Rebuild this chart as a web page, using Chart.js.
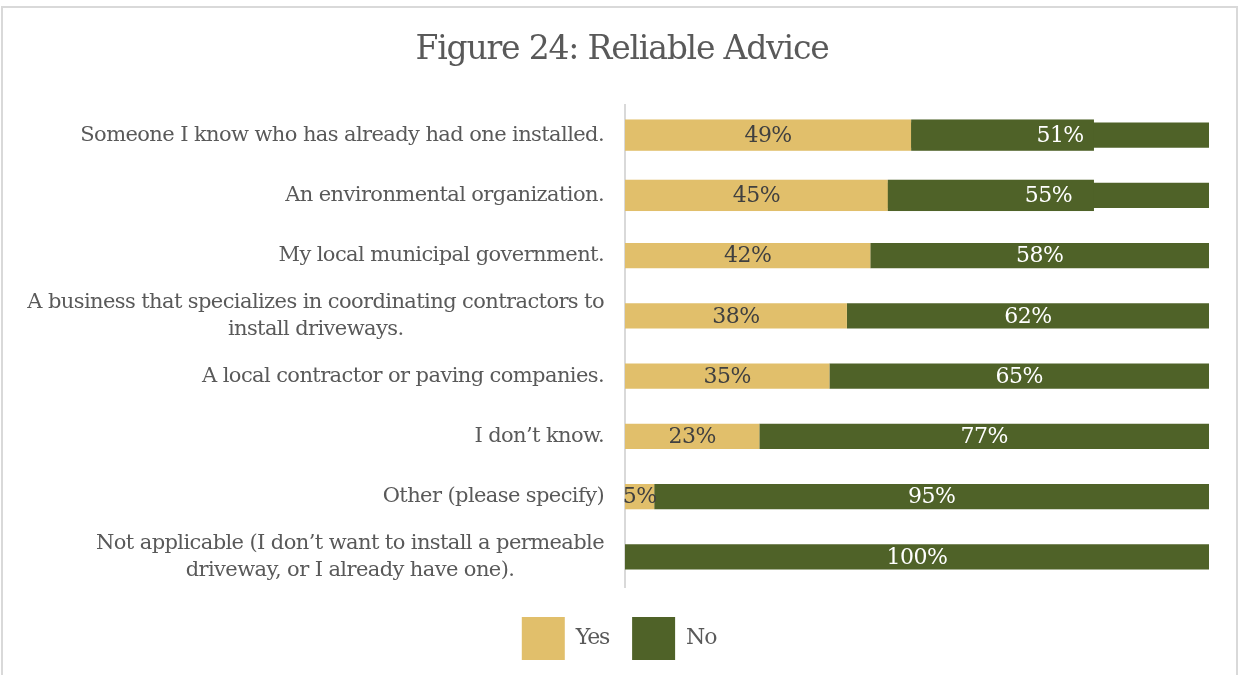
<!DOCTYPE html>
<html>
<head>
<meta charset="utf-8">
<title>Figure 24: Reliable Advice</title>
<script src="https://cdn.jsdelivr.net/npm/chart.js@4.4.0/dist/chart.umd.min.js"></script>
<style>
  html, body { margin: 0; padding: 0; background: #fff; overflow: hidden; }
  #frame { position: absolute; left: 1px; top: 6px; width: 1233px; height: 700px; border: 2px solid #d9d9d9; }
  #c { position: absolute; left: 0; top: 0; }
</style>
</head>
<body>
<div id="frame"></div>
<canvas id="c" width="1238" height="675"></canvas>
<script>
// Survey answers: who respondents would trust for advice
const categories = [
  ['Someone I know who has already had one installed.'],
  ['An environmental organization.'],
  ['My local municipal government.'],
  ['A business that specializes in coordinating contractors to', 'install driveways.'],
  ['A local contractor or paving companies.'],
  ['I don\u2019t know.'],
  ['Other (please specify)'],
  ['Not applicable (I don\u2019t want to install a permeable', 'driveway, or I already have one).']
];
const seriesNames = ['Yes', 'No'];
const yesValues = [49, 45, 42, 38, 35, 23, 5, 0];
const noValues  = [51, 55, 58, 62, 65, 77, 95, 100];

const YES_COLOR = '#E1BF6B';
const NO_COLOR = '#4F6228';
const TEXT_GRAY = '#595959';
const SERIF = '"DejaVu Serif", "Liberation Serif", serif';

// Thicker band behind the first rows' segments (label box of the "No" value)
const rowBand = {
  id: 'rowBand',
  afterDatasetsDraw(chart, args, opts) {
    const ctx = chart.ctx;
    const x = chart.scales.x;
    const endPx = x.getPixelForValue(opts.upTo);
    ctx.save();
    chart.data.datasets.forEach((ds, di) => {
      const meta = chart.getDatasetMeta(di);
      opts.rows.forEach(r => {
        const el = meta.data[r];
        if (!el) return;
        const left = Math.min(el.base, el.x);
        const right = Math.min(Math.max(el.base, el.x), endPx);
        if (right <= left) return;
        ctx.fillStyle = ds.backgroundColor;
        ctx.fillRect(left, el.y - el.height / 2 - opts.grow, right - left, el.height + 2 * opts.grow);
      });
    });
    ctx.restore();
  }
};

// Percentage labels centred in each segment
const valueLabels = {
  id: 'valueLabels',
  afterDatasetsDraw(chart, args, opts) {
    const ctx = chart.ctx;
    ctx.save();
    ctx.letterSpacing = opts.spacing;
    ctx.font = opts.size + 'px ' + SERIF;
    ctx.textAlign = 'center';
    ctx.textBaseline = 'middle';
    chart.data.datasets.forEach((ds, di) => {
      const meta = chart.getDatasetMeta(di);
      meta.data.forEach((el, i) => {
        const v = ds.data[i];
        if (!v) return;
        ctx.fillStyle = opts.colors[di];
        ctx.fillText(v + '%', (el.base + el.x) / 2, el.y + 1);
      });
    });
    ctx.restore();
  }
};

// Category names: block right-aligned to the axis, lines centred within the block
const categoryLabels = {
  id: 'categoryLabels',
  afterDraw(chart, args, opts) {
    const ctx = chart.ctx;
    const y = chart.scales.y;
    const right = y.right - opts.gap;
    ctx.save();
    ctx.letterSpacing = opts.spacing;
    ctx.font = opts.size + 'px ' + SERIF;
    ctx.fillStyle = TEXT_GRAY;
    ctx.textAlign = 'center';
    ctx.textBaseline = 'middle';
    categories.forEach((lines, i) => {
      const cy = y.getPixelForValue(i);
      const widest = Math.max(...lines.map(l => ctx.measureText(l).width));
      const cx = right - widest / 2;
      const top = cy - (lines.length - 1) * opts.lineHeight / 2;
      lines.forEach((l, k) => ctx.fillText(l, cx, top + k * opts.lineHeight));
    });
    ctx.restore();
  }
};

const tightText = {
  id: 'tightText',
  beforeDraw(chart, args, opts) { chart.ctx.letterSpacing = opts.spacing; }
};

new Chart(document.getElementById('c'), {
  type: 'bar',
  data: {
    labels: categories,
    datasets: [
      { label: seriesNames[0], data: yesValues, backgroundColor: YES_COLOR, borderWidth: 0 },
      { label: seriesNames[1], data: noValues, backgroundColor: NO_COLOR, borderWidth: 0 }
    ]
  },
  options: {
    indexAxis: 'y',
    responsive: false,
    animation: false,
    events: [],
    layout: { padding: { left: 6, right: 0, top: 10, bottom: 5 } },
    datasets: { bar: { barPercentage: 0.42, categoryPercentage: 1 } },
    scales: {
      x: {
        stacked: true, min: 0, max: 100,
        grid: { display: false }, border: { display: false },
        ticks: { display: false },
        afterFit(s) { s.height = 7; }
      },
      y: {
        stacked: true,
        grid: { display: false },
        border: { display: true, color: '#d9d9d9', width: 2 },
        ticks: { display: false },
        afterFit(s) { s.width = 619; }
      },
      // empty right-hand margin axis
      yRight: {
        type: 'linear', position: 'right',
        grid: { display: false }, border: { display: false },
        ticks: { display: false },
        afterFit(s) { s.width = 29; }
      }
    },
    plugins: {
      tooltip: { enabled: false },
      title: {
        display: true,
        text: 'Figure 24: Reliable Advice',
        color: TEXT_GRAY,
        font: { family: SERIF, size: 33, weight: 'normal', lineHeight: 1.2 },
        padding: { top: 21, bottom: 34.4 }
      },
      legend: {
        position: 'bottom',
        labels: {
          color: TEXT_GRAY,
          font: { family: SERIF, size: 22 },
          boxWidth: 43, boxHeight: 43,
          padding: 23
        }
      },
      tightText: { spacing: '-1.2px' },
      rowBand: { rows: [0, 1], upTo: 80.3, grow: 3 },
      valueLabels: { size: 22, spacing: '-0.5px', colors: ['#404040', '#ffffff'] },
      categoryLabels: { size: 21, spacing: '-0.6px', lineHeight: 27, gap: 21 }
    }
  },
  plugins: [tightText, rowBand, valueLabels, categoryLabels]
});
</script>
</body>
</html>
